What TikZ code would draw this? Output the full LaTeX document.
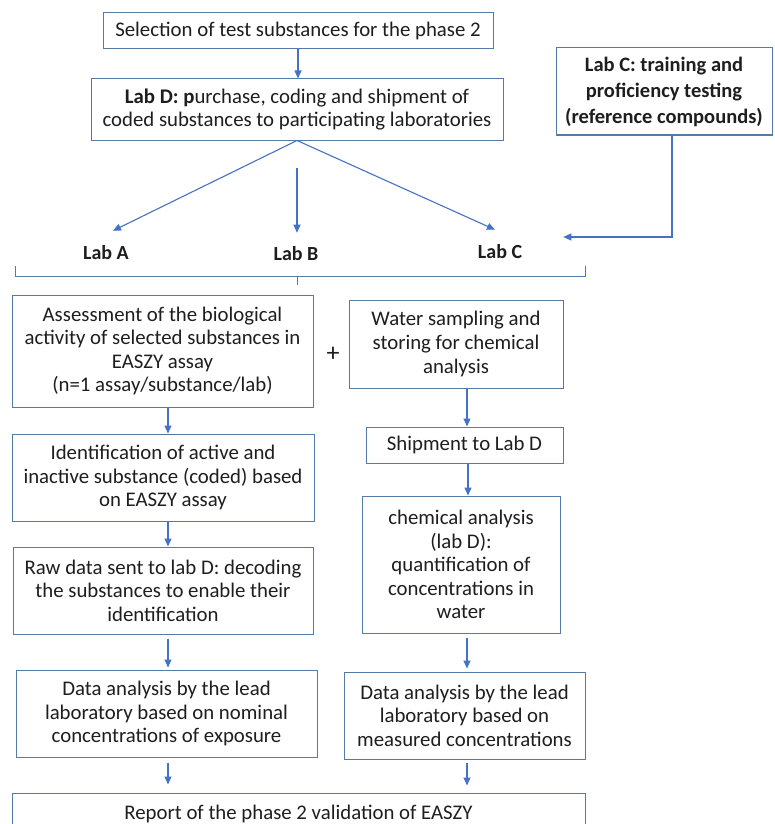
\documentclass[tikz,border=0pt]{standalone}
\usepackage{fontspec}
\setmainfont{Carlito}
\usetikzlibrary{arrows.meta,calc}
\definecolor{boxc}{RGB}{84,122,165}
\definecolor{arrc}{RGB}{68,114,196}
\definecolor{txt}{RGB}{30,30,30}
\begin{document}
\begin{tikzpicture}[x=1pt,y=-1pt,
  box/.style={draw=boxc, line width=1pt, text=txt, align=center, inner sep=0pt,
    font=\fontsize{20.8}{23.6}\selectfont},
  arr/.style={draw=arrc, line width=1.1pt, -{Triangle[length=8pt,width=7pt]}},
  lab/.style={font=\bfseries\fontsize{20}{23}\selectfont, text=txt, inner sep=1pt},
  brace/.style={draw=boxc, line width=0.9pt}]
\clip (0,0) rectangle (774,824);
\fill[white] (0,0) rectangle (774,824);

% top
\node[box, minimum width=390pt, minimum height=36pt] (sel) at (298,31)
  {Selection of test substances for the phase 2};
\node[box, minimum width=412pt, minimum height=61pt] (labD) at (297,109.5)
  {{\bfseries Lab D: p}urchase, coding and shipment of\\coded substances to participating laboratories};
\node[box, minimum width=216pt, minimum height=87pt,
  font=\bfseries\fontsize{20.5}{26}\selectfont] (train) at (664,91.5)
  {Lab C: training and\\proficiency testing\\(reference compounds)};

% labs
\node[lab] (labA) at (106,253) {Lab A};
\node[lab] (labB) at (296,254) {Lab B};
\node[lab] (labC) at (500,252) {Lab C};

\draw[arr] (sel.south) -- (sel.south |- labD.north);
\draw[arr] (labD.south) -- ([xshift=7pt,yshift=14pt]labA.north);
\draw[arr] ([yshift=-27pt]labD.south) -- ([xshift=1pt,yshift=13pt]labB.north);
\draw[arr] (labD.south) -- ([xshift=-5pt,yshift=14pt]labC.north);
\draw[arr] ([xshift=8pt]train.south) |- ([xshift=40pt,yshift=15pt]labC.east);

% bracket
\draw[brace] (15,266) -- (15,276) -- (585,276) -- (585,266);
\draw[brace] (297,276) -- (297,285);

% left column
\node[box, minimum width=301pt, minimum height=112pt] (assess) at (162.5,351)
  {Assessment of the biological\\activity of selected substances in\\EASZY assay\\(n=1 assay/substance/lab)};
\node[box, minimum width=302pt, minimum height=87pt] (ident) at (163,477.5)
  {Identification of active and\\inactive substance (coded) based\\on EASZY assay};
\node[box, minimum width=300pt, minimum height=87pt] (raw) at (163,590.5)
  {Raw data sent to lab D: decoding\\the substances to enable their\\identification};
\node[box, minimum width=301pt, minimum height=87pt] (dataN) at (166.5,713.5)
  {Data analysis by the lead\\laboratory based on nominal\\concentrations of exposure};

% plus
\node[text=txt, font=\fontsize{26}{26}\selectfont, inner sep=0pt] (plus) at (333,354) {+};

% right column
\node[box, minimum width=214pt, minimum height=88pt] (water) at (456,344)
  {Water sampling and\\storing for chemical\\analysis};
\node[box, minimum width=197pt, minimum height=36pt] (ship) at (464.5,445)
  {Shipment to Lab D};
\node[box, minimum width=198pt, minimum height=137pt] (chem) at (461,564.5)
  {chemical analysis\\(lab D):\\quantification of\\concentrations in\\water};
\node[box, minimum width=241pt, minimum height=87pt] (dataM) at (464.5,715.5)
  {Data analysis by the lead\\laboratory based on\\measured concentrations};

% report
\node[box, minimum width=573pt, minimum height=42pt] (report) at (298.5,814)
  {Report of the phase 2 validation of EASZY};

% vertical arrows left
\draw[arr] ([xshift=5.5pt]assess.south) -- ([xshift=5.5pt]assess.south |- ident.north);
\draw[arr] ([xshift=5pt]ident.south) -- ([xshift=5pt]ident.south |- raw.north);
\draw[arr, shorten <=4pt, shorten >=2pt] ([xshift=5pt]raw.south) -- ([xshift=5pt]raw.south |- dataN.north);
\draw[arr, shorten <=5pt, shorten >=8pt] ([xshift=1.5pt]dataN.south) -- ([xshift=1.5pt]dataN.south |- report.north);

% vertical arrows right
\draw[arr] ([xshift=11pt]water.south) -- ([xshift=11pt]water.south |- ship.north);
\draw[arr] ([xshift=3.5pt]ship.south) -- ([xshift=3.5pt]ship.south |- chem.north);
\draw[arr, shorten <=4pt, shorten >=3pt] ([xshift=6pt]chem.south) -- ([xshift=6pt]chem.south |- dataM.north);
\draw[arr, shorten <=3pt, shorten >=7pt] ([xshift=2.5pt]dataM.south) -- ([xshift=2.5pt]dataM.south |- report.north);
\end{tikzpicture}
\end{document}
